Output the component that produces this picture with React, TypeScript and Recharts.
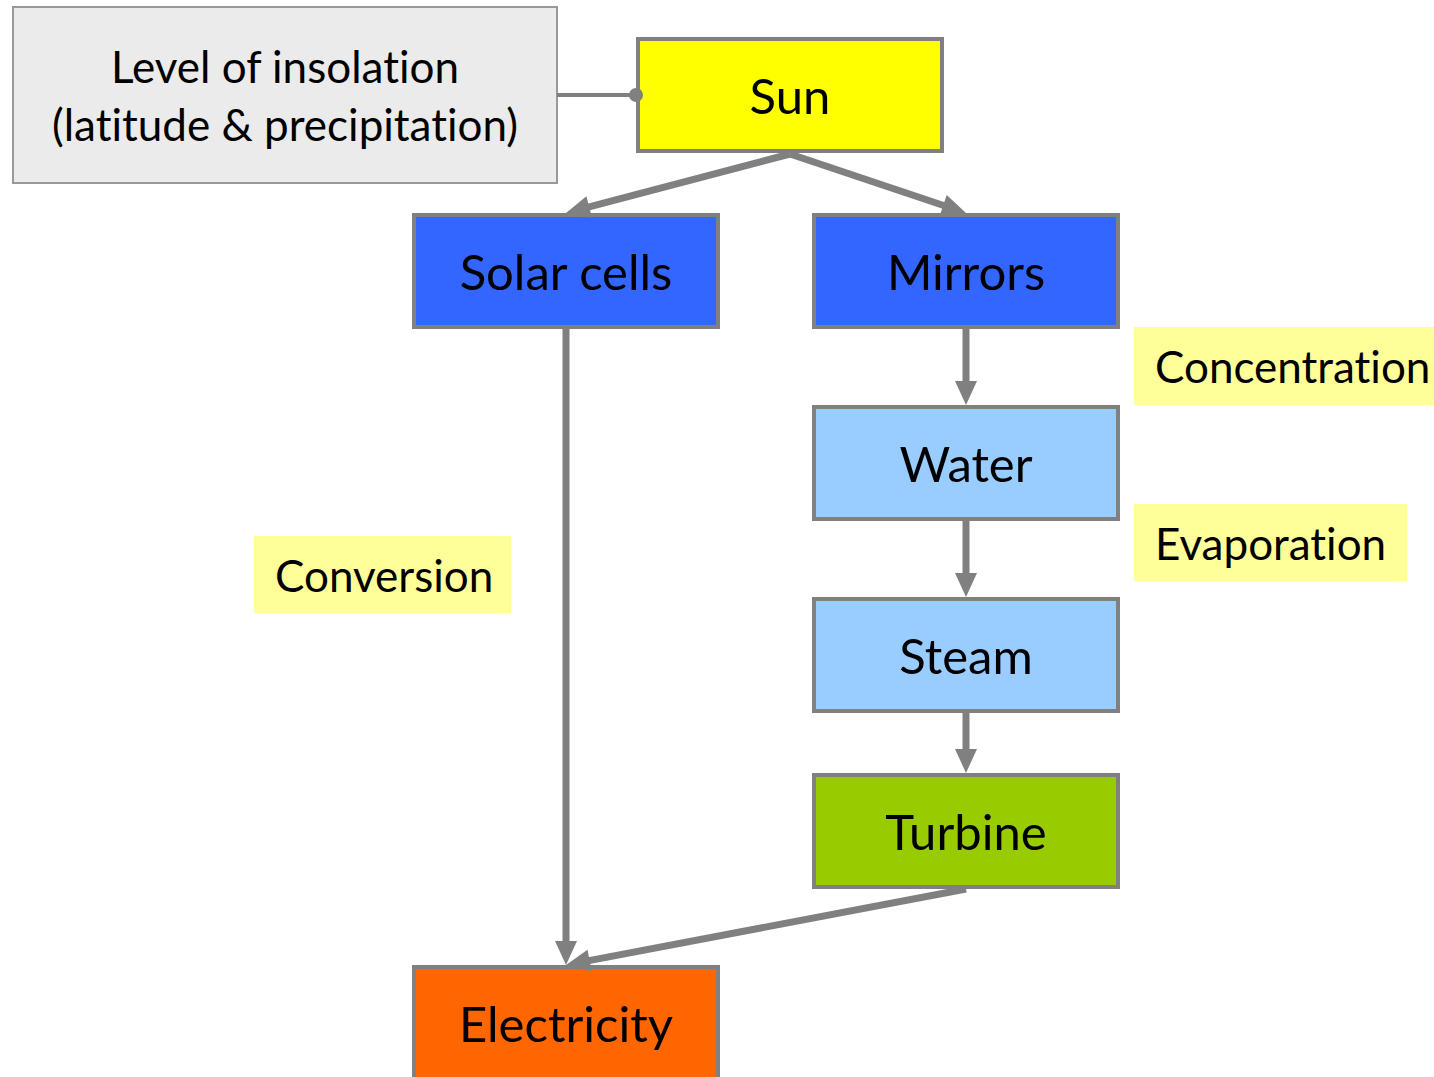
import { ScatterChart, XAxis, YAxis, ReferenceArea, ReferenceLine, ReferenceDot, Scatter } from "recharts"

// diagram space: 1434 x 1077, y grows downward
const nodeLabels = ["Sun", "Solar cells", "Mirrors", "Water", "Steam", "Turbine", "Electricity"]
const nodeX1 = [638, 414, 814, 814, 814, 814, 414]
const nodeX2 = [942, 718, 1118, 1118, 1118, 1118, 718]
const nodeY1 = [39, 215, 215, 407, 599, 775, 967]
const nodeY2 = [151, 327, 327, 519, 711, 887, 1079]
const nodeFills = ["#FFFF00", "#3366FF", "#3366FF", "#99CCFF", "#99CCFF", "#99CC00", "#FF6600"]

const noteLabels = ["Concentration", "Evaporation", "Conversion"]
const noteX1 = [1134, 1134, 254]
const noteX2 = [1434, 1407, 511]
const noteY1 = [327, 504, 536]
const noteY2 = [405, 581, 613]

const factorLines = ["Level of insolation", "(latitude & precipitation)"]
const factorBox = { x1: 13, x2: 557, y1: 7, y2: 183 }

// arrows: [fromX, fromY, toX, toY]
const arrowFrom = [[790, 154], [790, 154], [566, 329], [966, 329], [966, 521], [966, 713], [966, 889]]
const arrowTo = [[566, 213], [966, 213], [566, 965], [966, 405], [966, 597], [966, 773], [566, 965]]

const connectorY = 95
const connectorX = [557, 636]

const GRAY = "#808080"
const FONT = "Lato, 'Open Sans', sans-serif"
const textStyle = { fontVariantLigatures: "none" as const }

const Arrow = (props: any) => {
  const { x1, y1, x2, y2 } = props
  const dx = x2 - x1
  const dy = y2 - y1
  const len = Math.sqrt(dx * dx + dy * dy)
  const ux = dx / len
  const uy = dy / len
  const head = 24
  const half = 11
  const bx = x2 - ux * head
  const by = y2 - uy * head
  const pts = `${x2},${y2} ${bx - uy * half},${by + ux * half} ${bx + uy * half},${by - ux * half}`
  return (
    <g>
      <line x1={x1} y1={y1} x2={bx + ux * 2} y2={by + uy * 2} stroke={GRAY} strokeWidth={7} />
      <polygon points={pts} fill={GRAY} />
    </g>
  )
}

const CenterLabel = ({ viewBox, value, size }: any) => (
  <text
    x={viewBox.x + viewBox.width / 2}
    y={viewBox.y + viewBox.height / 2}
    textAnchor="middle"
    dominantBaseline="central"
    fontFamily={FONT}
    fontSize={size}
    fill="#000"
    style={textStyle}
  >
    {value}
  </text>
)

const NoteLabel = ({ viewBox, value }: any) => (
  <text
    x={viewBox.x + 21}
    y={viewBox.y + viewBox.height / 2}
    dominantBaseline="central"
    fontFamily={FONT}
    fontSize={44}
    fill="#000"
    style={textStyle}
  >
    {value}
  </text>
)

const FactorLabel = ({ viewBox }: any) => {
  const cx = viewBox.x + viewBox.width / 2
  return (
    <text x={cx} textAnchor="middle" fontFamily={FONT} fontSize={44} fill="#000" style={textStyle}>
      <tspan x={cx} y={viewBox.y + 76}>{factorLines[0]}</tspan>
      <tspan x={cx} y={viewBox.y + 134}>{factorLines[1]}</tspan>
    </text>
  )
}

export default function App() {
  return (
    <div style={{ position: "absolute", left: 0, top: 0, background: "#fff" }}>
      <ScatterChart width={1434} height={1077} margin={{ top: 0, right: 0, bottom: 0, left: 0 }}>
        <XAxis type="number" dataKey="x" domain={[0, 1434]} hide allowDataOverflow />
        <YAxis type="number" dataKey="y" domain={[0, 1077]} reversed hide allowDataOverflow />
        <Scatter data={[]} isAnimationActive={false} />

        <ReferenceArea
          x1={factorBox.x1} x2={factorBox.x2} y1={factorBox.y1} y2={factorBox.y2}
          fill="#EBEBEB" fillOpacity={1} stroke="#999999" strokeWidth={2}
          label={<FactorLabel />}
        />
        <ReferenceLine
          segment={[{ x: connectorX[0], y: connectorY }, { x: connectorX[1], y: connectorY }]}
          stroke={GRAY} strokeWidth={4}
        />

        {noteLabels.map((n, i) => (
          <ReferenceArea
            key={n}
            x1={noteX1[i]} x2={noteX2[i]} y1={noteY1[i]} y2={noteY2[i]}
            fill="#FFFF99" fillOpacity={1} stroke="none"
            label={<NoteLabel value={n} />}
          />
        ))}

        {arrowFrom.map((a, i) => (
          <ReferenceLine
            key={i}
            segment={[{ x: a[0], y: a[1] }, { x: arrowTo[i][0], y: arrowTo[i][1] }]}
            shape={<Arrow />}
            ifOverflow="visible"
          />
        ))}

        {nodeLabels.map((n, i) => (
          <ReferenceArea
            key={n}
            x1={nodeX1[i]} x2={nodeX2[i]} y1={nodeY1[i]} y2={nodeY2[i]}
            fill={nodeFills[i]} fillOpacity={1} stroke={GRAY} strokeWidth={4}
            ifOverflow="visible"
            label={<CenterLabel value={n} size={49} />}
          />
        ))}

        <ReferenceDot x={connectorX[1]} y={connectorY} r={7} fill={GRAY} stroke="none" />
      </ScatterChart>
    </div>
  )
}
